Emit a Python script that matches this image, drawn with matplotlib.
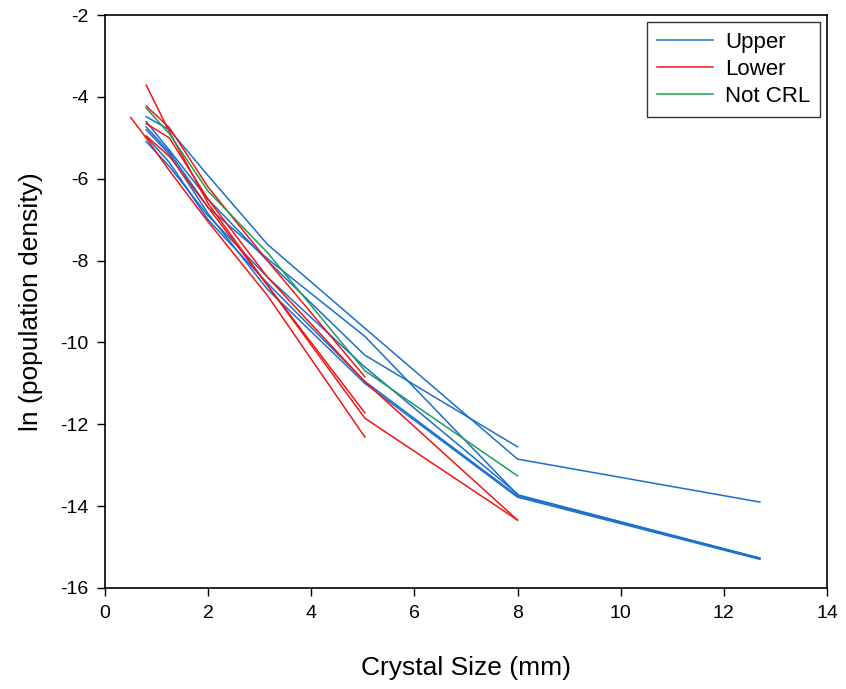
import matplotlib
matplotlib.use('Agg')
import matplotlib.pyplot as plt

plt.rcParams['font.family'] = ['Liberation Sans', 'DejaVu Sans']
plt.rcParams['axes.unicode_minus'] = False

# Upper (blue) series
upper_x = [
    [0.8, 1.25, 2, 3.15, 5.04, 8, 12.7],
    [0.8, 1.25, 2, 3.15, 5.04, 8],
    [0.8, 1.25, 2, 3.15, 5.04, 8, 12.7],
    [0.8, 1.25, 2, 3.15, 5.04, 8, 12.7],
    [0.8, 1.25, 2, 3.15, 5.04, 8],
    [0.8, 1.25, 2, 3.15, 5.04, 8, 12.7],
]
upper_y = [
    [-4.48, -4.8, -5.92, -7.6, -9.65, -12.85, -13.9],
    [-4.6, -5.3, -6.5, -8.0, -10.31, -12.55],
    [-4.73, -5.35, -6.7, -7.95, -9.85, -13.72, -15.27],
    [-4.97, -5.6, -7.0, -8.55, -10.95, -13.75, -15.27],
    [-5.09, -5.7, -6.9, -8.4, -10.6, -13.7],
    [-4.8, -5.4, -6.85, -8.7, -11.0, -13.78, -15.3],
]

# Lower (red) series
lower_x = [
    [0.8, 1.25, 2, 3.15, 5.04],
    [0.5, 0.8, 1.25, 2, 3.15, 5.04],
    [0.8, 1.25, 2, 3.15, 5.04],
    [0.8, 1.25, 2, 3.15, 5.04, 8],
    [0.8, 1.25, 2, 3.15, 5.04, 8],
]
lower_y = [
    [-3.71, -4.85, -6.6, -8.6, -11.72],
    [-4.5, -5.0, -5.8, -7.05, -8.85, -12.31],
    [-4.22, -4.75, -6.2, -8.0, -10.84],
    [-4.95, -5.45, -6.7, -8.6, -11.85, -14.34],
    [-4.65, -5.0, -6.5, -8.4, -10.96, -14.34],
]

# Not CRL (green)
notcrl_x = [0.8, 1.25, 2, 3.15, 5.04, 8]
notcrl_y = [-4.27, -4.9, -6.3, -7.8, -10.69, -13.26]

blue = '#1a6fcc'
red = '#f01616'
green = '#1f9e55'

fig = plt.figure(figsize=(8.46, 6.89), dpi=100)
ax = fig.add_axes([0.124, 0.1466, 0.8535, 0.8314])

for i, (xs, ys) in enumerate(zip(upper_x, upper_y)):
    ax.plot(xs, ys, color=blue, lw=1.1, label='Upper' if i == 0 else None)
for i, (xs, ys) in enumerate(zip(lower_x, lower_y)):
    ax.plot(xs, ys, color=red, lw=1.1, label='Lower' if i == 0 else None)
ax.plot(notcrl_x, notcrl_y, color=green, lw=1.1, label='Not CRL')

ax.set_xlim(0, 14)
ax.set_ylim(-16, -2)
ax.set_xticks(range(0, 15, 2))
ax.set_yticks(range(-16, -1, 2))
ax.tick_params(direction='out', length=6, width=1, pad=6, labelsize=14,
               top=False, right=False)
for s in ax.spines.values():
    s.set_linewidth(1.2)

ax.set_xlabel('Crystal Size (mm)', fontsize=19, labelpad=25)
ax.set_ylabel('ln (population density)', fontsize=19, labelpad=12)

leg = ax.legend(loc='upper right', fontsize=16, frameon=True, fancybox=False,
                edgecolor='black', handlelength=2.5, handletextpad=0.55,
                borderaxespad=0.3, labelspacing=0.28, borderpad=0.45)
leg.get_frame().set_linewidth(1.0)

fig.savefig('out.png', dpi=100)
